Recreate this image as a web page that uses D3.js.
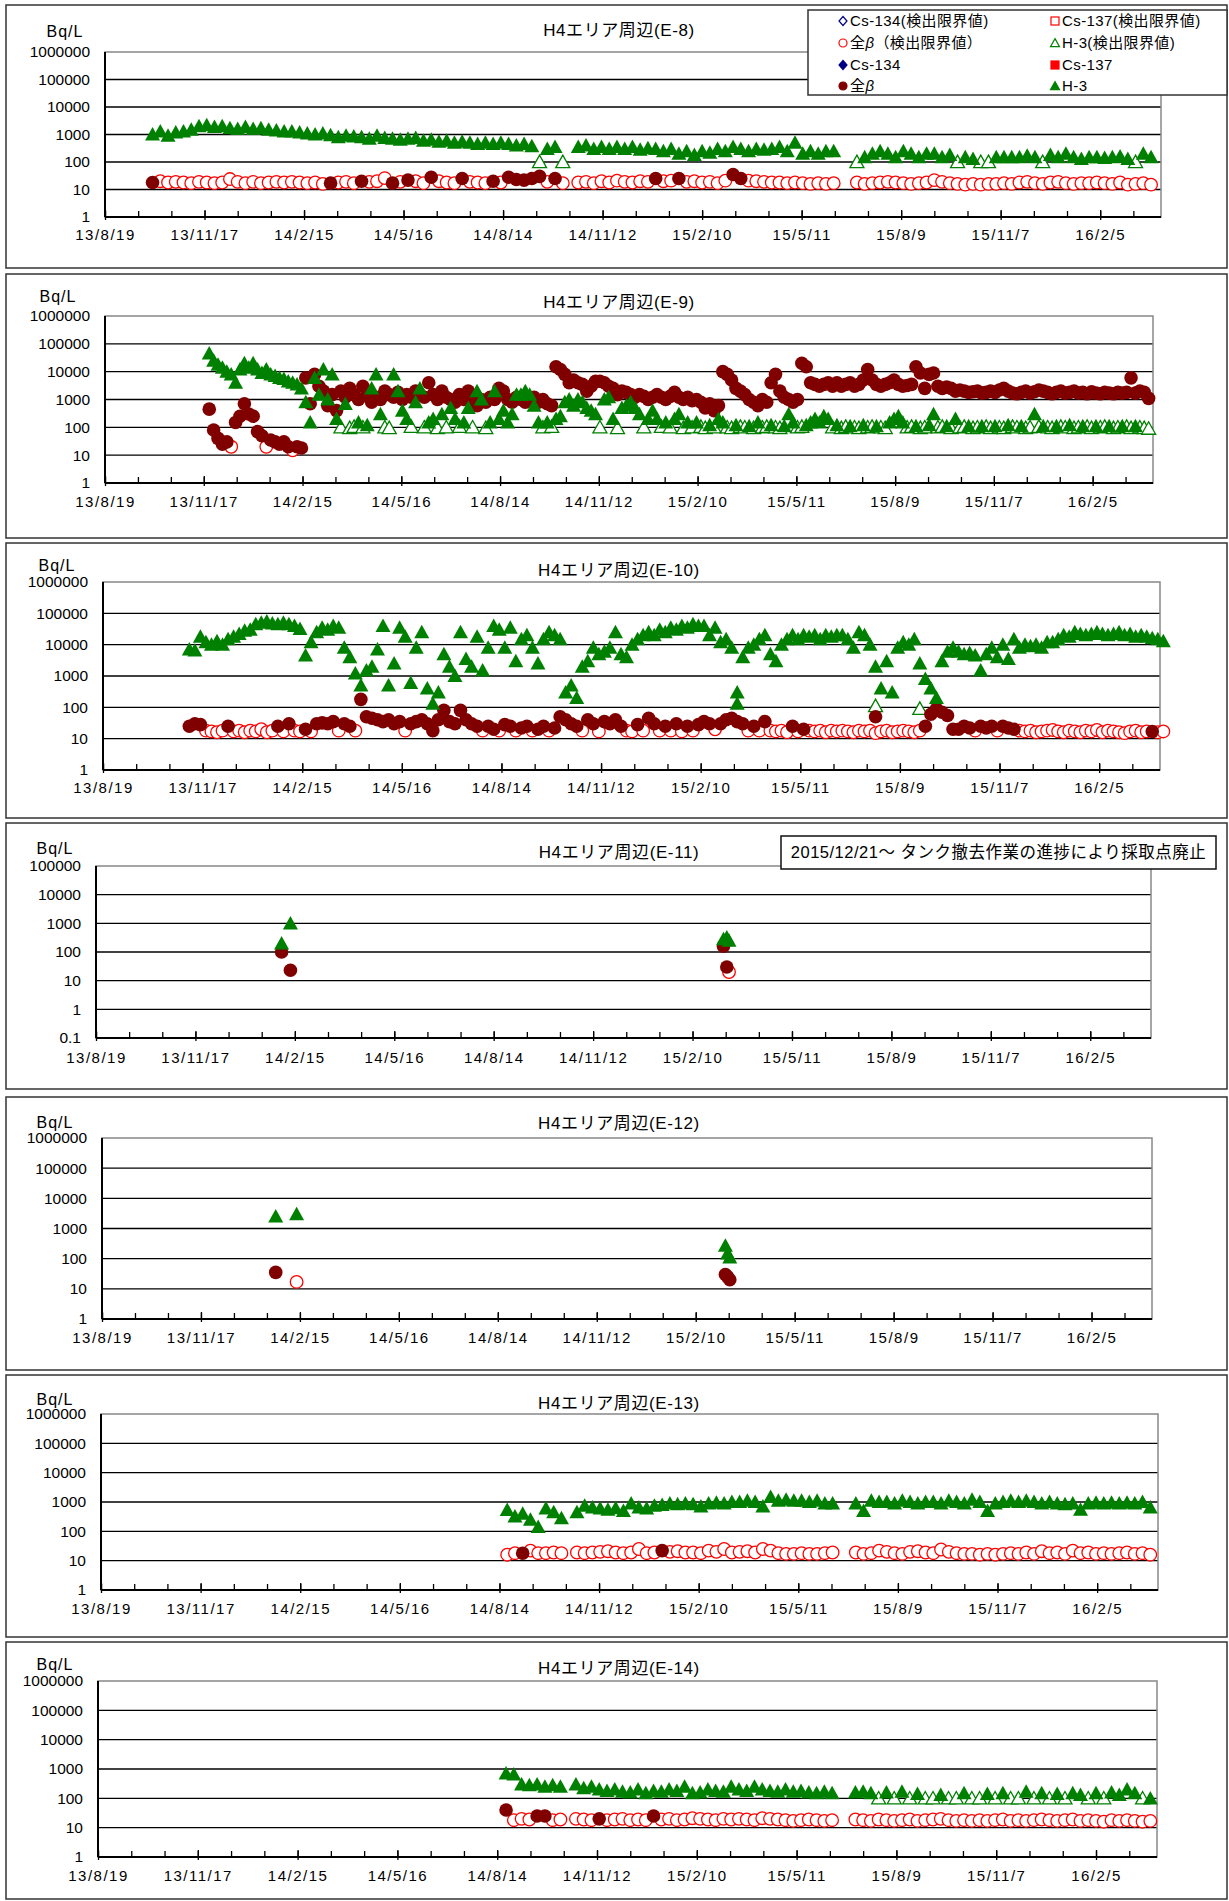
<!DOCTYPE html>
<html><head><meta charset="utf-8">
<script src="https://cdn.jsdelivr.net/npm/d3@7"></script>
<style>
body{margin:0;background:#fff}
svg{display:block}
text{font-family:"Liberation Sans","Noto Sans CJK JP",sans-serif;fill:#000}
</style>
</head><body>
<svg id="c" width="1229" height="1901"></svg>
<script>
// ---------------- DATA ----------------
// x axis
const AXIS_START = "2013-08-19";
const AXIS_END = "2016-03-31";
const tickLabels = ["13/8/19","13/11/17","14/2/15","14/5/16","14/8/14","14/11/12","15/2/10","15/5/11","15/8/9","15/11/7","16/2/5"];
const panelNames = ["E-8","E-9","E-10","E-11","E-12","E-13","E-14"];
const legendLabels = ["Cs-134(検出限界値)","Cs-137(検出限界値)","全β（検出限界値）","H-3(検出限界値)","Cs-134","Cs-137","全β","H-3"];
const noteText = "2015/12/21～ タンク撤去作業の進捗により採取点廃止";
// Series values (Bq/L). Positive = detected (filled marker),
// negative = below detection limit, plotted at |value| (open marker).
// null = no sample. An inner array = several samples in one slot.

// E-8 : weekly samples from 2013-10-01
const e8Start = "2013-10-01", e8Step = 7;
const e8H3 = [1000,1300,900,1200,1300,1500,2000,2200,1900,2000,
 1700,1600,1900,1600,1700,1500,1400,1300,1300,1200,
 1100,1000,1100,950,800,900,850,800,700,900,
 750,700,650,700,750,600,650,550,600,500,
 550,500,450,500,450,500,450,400,450,380,
 -100,300,350,-100,null,350,400,300,350,300,
 350,300,350,280,320,300,250,300,200,250,
 180,250,220,300,250,350,300,250,300,280,
 300,350,250,500,200,250,200,250,250,null,
 null,-100,150,200,250,200,150,250,200,150,
 200,200,150,180,-100,150,130,-100,-100,150,
 150,150,150,170,150,-100,180,150,200,150,
 130,150,150,140,150,160,130,-100,200,150];
const e8Beta = [18,-20,-18,-19,-18,-17,-19,-18,-17,-18,
 -24,-19,-17,-19,-17,-18,-19,-18,-19,-18,
 -17,-18,-16,17,-18,-19,-17,20,-19,-20,
 -26,17,-19,22,-20,-17,28,-20,-18,-17,
 25,-19,-18,-17,20,-18,28,23,22,25,
 30,-19,25,-17,null,-18,-19,-17,-20,-18,
 -21,-19,-18,-20,-19,25,-20,-21,25,-19,
 -20,-18,-19,-17,-21,35,25,-21,-20,-19,
 -18,-18,-17,-18,-17,-16,-17,-16,-17,null,
 null,-18,-16,-17,-18,-19,-18,-17,-16,-17,
 -18,-22,-19,-17,-16,-15,-16,-15,-16,-16,
 -17,-16,-18,-19,-17,-16,-18,-19,-17,-16,
 -17,-17,-18,-17,-16,-18,-15,-16,-17,-15];

// E-9 : samples every 4 days from 2013-11-22
const e9Start = "2013-11-22", e9Step = 4;
const e9H3 = [45000,25000,18000,14000,10000,8000,4000,12000,20000,14000,
 20000,12000,9000,12000,8000,7000,6000,5500,4500,4000,
 3500,2500,800,150,6000,1500,12000,1000,8000,200,
 -100,700,-95,-105,150,-100,120,2500,8000,300,
 -100,-95,8000,2000,400,200,-105,800,2500,-100,
 150,200,-95,300,-100,500,200,-105,150,500,
 -100,2000,1000,-95,150,2000,200,400,150,300,
 1500,1500,2000,1500,600,150,-100,150,-105,200,
 250,800,1000,600,1000,800,500,400,300,-100,
 1000,1200,200,-95,500,600,800,500,300,-100,
 200,400,200,-105,150,-100,200,300,-95,150,
 -100,150,-105,-95,120,-100,200,150,-100,-95,
 120,-105,-100,110,-95,150,-100,-105,120,-100,
 -95,110,300,150,-100,-105,120,150,200,150,
 250,200,-100,120,-95,-105,110,-100,-95,120,
 -100,-105,110,-100,-95,150,200,250,150,-100,
 -105,110,-95,-100,120,300,-100,-105,110,-95,
 200,-100,-105,110,-95,-100,110,-105,-95,110,
 -100,-95,120,-105,-100,110,-95,-100,300,-105,
 110,-100,-95,110,-105,-100,120,-95,-100,110,
 -105,-95,110,-100,-105,110,-95,-100,110,-105,
 -95,110,-100,-95,-90];
const e9Beta = [450,80,40,25,30,-20,150,250,700,300,
 250,70,50,-20,35,30,25,30,20,-15,
 20,18,6000,700,8000,3000,2000,600,1500,400,
 2000,1200,2500,1500,1000,3000,1500,800,1200,1000,
 2000,1500,1200,1800,1000,1500,1200,2000,1500,1200,
 4000,1500,1000,2000,1200,1000,800,1500,1000,2000,
 800,600,1000,800,1200,1000,2500,2000,1000,800,
 1200,1000,800,1000,1200,800,1000,700,600,15000,
 12000,8000,4000,5000,4000,3500,2000,3000,4500,4500,
 4000,3000,2500,1500,2000,1800,1500,1200,1500,1300,
 1000,1200,1500,1200,1000,1300,1800,1200,1000,1200,
 900,1000,800,500,700,400,600,10000,8000,5000,
 2500,2000,1500,1000,800,600,1000,800,4000,8000,
 2000,1200,1000,800,1000,20000,15000,4000,3500,3000,
 3500,4000,3000,4000,3000,3500,4000,3000,3500,5000,
 12000,5000,3500,3000,3500,4000,5000,3500,3000,3200,
 3500,15000,9000,2500,8000,9000,3000,2500,2800,2500,
 2000,2200,2000,1800,1900,2000,1700,1800,2000,1800,
 2200,2500,2000,1700,1600,1800,2000,1700,1900,2200,
 2000,1800,1600,1800,2000,1700,1800,2000,1700,1800,
 1600,1900,1700,1600,1800,1700,1600,1800,1700,1800,
 6000,1700,2000,1800,1100];

// E-10 : samples every 5 days from 2013-11-05
const e10Start = "2013-11-05", e10Step = 5;
const e10H3 = [7000,6500,18000,12000,10000,13000,10000,15000,18000,22000,
 28000,30000,45000,50000,55000,48000,45000,50000,45000,40000,
 32000,4500,12000,25000,35000,30000,40000,35000,8000,4000,
 1200,500,1500,2000,7000,40000,500,2500,35000,18000,
 600,8000,25000,400,130,300,5000,2000,1000,25000,
 3500,2000,18000,1500,8000,40000,30000,8000,35000,3000,
 15000,20000,8000,2500,15000,25000,20000,15000,300,500,
 200,2000,3000,8000,5000,6000,8000,25000,5000,4000,
 10000,15000,20000,25000,20000,30000,25000,35000,30000,40000,
 35000,45000,40000,40000,20000,35000,12000,15000,8000,[300,130],
 4000,8000,10000,15000,20000,5000,3000,10000,15000,20000,
 15000,20000,18000,20000,15000,20000,18000,20000,20000,15000,
 8000,25000,20000,10000,[2000,-110],400,3000,300,8000,12000,
 10000,15000,[2500,-90],800,400,200,3000,6000,8000,6000,
 5000,5500,4500,1500,5000,8000,4000,10000,3500,15000,
 8000,10000,9000,10000,8000,12000,12000,15000,20000,18000,
 25000,22000,20000,22000,25000,22000,20000,22000,25000,20000,
 22000,18000,20000,18000,16000,15000,13000];
const e10Beta = [25,30,28,-18,-17,-16,-18,25,-17,-18,
 -16,-18,-17,-20,-16,-18,25,-17,30,-18,
 -17,20,-17,30,32,30,35,-18,30,25,
 -18,180,50,45,40,35,40,30,35,-18,
 30,35,40,30,18,40,80,35,30,80,
 40,30,25,-18,25,20,-18,28,25,-18,
 22,25,-18,20,25,-18,22,50,40,30,
 25,-18,40,30,-17,35,30,40,25,-18,
 -17,28,-18,45,30,-18,25,-18,30,-17,
 25,-18,28,35,30,-20,30,40,45,35,
 30,-18,25,-18,35,-18,-17,-18,-16,25,
 -17,20,-18,-17,-18,-16,-18,-17,-18,-17,
 -16,-18,-17,-18,[50,-15],-17,-18,-16,-17,-18,
 -17,-16,-18,25,60,90,70,55,20,20,
 25,22,-18,25,22,25,-18,25,22,20,
 -18,-17,-18,-16,-17,-18,-19,-17,-16,-18,
 -17,-16,-18,-17,-19,-16,-18,-17,-16,-15,
 -17,-18,-16,-17,17,-16,-17];

// E-11 : individual samples
const e11Dates = ["2014-02-03","2014-02-11","2015-03-10","2015-03-13","2015-03-15"];
const e11H3 = [200,1000,280,320,250];
const e11Beta = [100,23,160,30,-20];

// E-12 : individual samples
const e12Dates = ["2014-01-24","2014-02-12","2015-03-09","2015-03-11","2015-03-13"];
const e12H3 = [2500,3000,270,150,110];
const e12Beta = [35,-17,30,25,20];

// E-13 : weekly samples from 2014-08-21
const e13Start = "2014-08-21", e13Step = 7;
const e13H3 = [540,320,400,250,140,600,450,280,null,450,
 750,650,600,550,620,500,900,650,600,750,
 800,900,850,900,850,700,900,950,900,1000,
 1000,1100,1000,700,1500,1100,1200,1100,1100,1000,
 1100,900,900,null,null,900,500,1100,1000,1000,
 900,1100,1000,900,1000,1000,900,1100,1000,900,
 1200,1000,500,900,1000,1100,1000,1100,1000,900,
 1000,900,850,900,550,900,950,900,950,900,
 950,900,1000,650];
const e13Beta = [-16,-18,18,-22,-18,-18,-19,-18,null,-19,
 -18,-19,-20,-21,-19,-18,-19,-25,-18,-19,
 22,-20,-21,-19,-19,-18,-22,-20,-25,-19,
 -20,-21,-19,-25,-22,-18,-17,-17,-18,-17,
 -17,-18,-19,null,null,-19,-17,-18,-22,-20,
 -18,-17,-20,-21,-19,-18,-24,-20,-18,-17,
 -17,-16,-17,-16,-17,-18,-17,-19,-17,-21,
 -18,-19,-17,-22,-18,-19,-17,-18,-17,-18,
 -19,-17,-18,-16];

// E-14 : weekly samples from 2014-08-22
const e14Start = "2014-08-22", e14Step = 7;
const e14H3 = [700,650,300,280,300,250,280,250,null,300,
 220,250,200,180,200,170,160,200,150,180,
 170,200,180,250,150,160,200,180,170,250,
 200,180,250,200,180,170,200,170,180,160,
 150,170,150,null,null,160,170,150,-100,160,
 -100,170,-100,140,-100,-100,130,-100,-100,150,
 -100,-100,140,-100,150,-100,-100,170,-100,150,
 -100,140,-100,150,130,-100,150,-100,160,130,
 200,150,-100,100];
const e14Beta = [40,-18,-20,-19,25,25,-18,-19,null,-20,
 -19,-18,20,-18,-19,-20,-18,-19,-18,25,
 -19,-20,-18,-19,-21,-20,-19,-18,-20,-19,
 -20,-19,-18,-21,-20,-19,-18,-17,-18,-19,
 -18,-17,-18,null,null,-19,-18,-17,-19,-18,
 -17,-18,-19,-17,-18,-19,-20,-18,-17,-18,
 -17,-18,-17,-18,-19,-17,-18,-17,-18,-19,
 -18,-17,-18,-19,-17,-18,-17,-16,-18,-17,
 -18,-17,-16,-17];

// ---------------- BUILD ----------------
const parse = d3.utcParse("%Y-%m-%d");
function fromGrid(start, step, arr) {
  const pts = [], s = parse(start);
  arr.forEach((v, i) => {
    if (v == null) return;
    const d = d3.utcDay.offset(s, i * step);
    [].concat(v).forEach(val => pts.push({date: d, value: Math.abs(val), nd: val < 0}));
  });
  return pts;
}
function fromList(dates, arr) {
  const pts = [];
  arr.forEach((v, i) => {
    if (v == null) return;
    [].concat(v).forEach(val => pts.push({date: parse(dates[i]), value: Math.abs(val), nd: val < 0}));
  });
  return pts;
}

const seriesByPanel = [
  {h3: fromGrid(e8Start, e8Step, e8H3), beta: fromGrid(e8Start, e8Step, e8Beta)},
  {h3: fromGrid(e9Start, e9Step, e9H3), beta: fromGrid(e9Start, e9Step, e9Beta)},
  {h3: fromGrid(e10Start, e10Step, e10H3), beta: fromGrid(e10Start, e10Step, e10Beta)},
  {h3: fromList(e11Dates, e11H3), beta: fromList(e11Dates, e11Beta)},
  {h3: fromList(e12Dates, e12H3), beta: fromList(e12Dates, e12Beta)},
  {h3: fromGrid(e13Start, e13Step, e13H3), beta: fromGrid(e13Start, e13Step, e13Beta)},
  {h3: fromGrid(e14Start, e14Step, e14H3), beta: fromGrid(e14Start, e14Step, e14Beta)}
];

// layout (pixels)
const layout = [
  {box:[6,5,1227,268],    l:105,r:1161,t:52,  b:217,  ymin:1,  ymax:1e6, ty:30,   ux:65, uy:31,   lab:18},
  {box:[6,274,1227,538],  l:105,r:1153,t:316, b:483,  ymin:1,  ymax:1e6, ty:302,  ux:58, uy:296,  lab:19},
  {box:[6,543,1227,818],  l:103,r:1160,t:582, b:770,  ymin:1,  ymax:1e6, ty:570,  ux:57, uy:565,  lab:18},
  {box:[6,823,1227,1089], l:96, r:1151,t:866, b:1038, ymin:0.1,ymax:1e5, ty:852,  ux:55, uy:848,  lab:20},
  {box:[6,1097,1227,1370],l:102,r:1152,t:1138,b:1319, ymin:1,  ymax:1e6, ty:1123, ux:55, uy:1122, lab:19},
  {box:[6,1375,1227,1637],l:101,r:1158,t:1414,b:1590, ymin:1,  ymax:1e6, ty:1403, ux:55, uy:1399, lab:19},
  {box:[6,1642,1227,1899],l:98, r:1157,t:1681,b:1857, ymin:1,  ymax:1e6, ty:1668, ux:55, uy:1664, lab:19}
];

const C = {green:"#008000", dred:"#800000", red:"#ff0000", navy:"#000080"};
const svg = d3.select("#c");
svg.append("rect").attr("width",1229).attr("height",1901).attr("fill","#fff");

const x0 = parse(AXIS_START), x1 = parse(AXIS_END);
const minorTicks = d3.range(0, 32).map(i => d3.utcDay.offset(x0, 30 * i));
const majorTicks = d3.range(0, tickLabels.length).map(i => d3.utcDay.offset(x0, 90 * i));

function triPath(cx, cy, w, h) {
  return `M${cx},${cy - h * 0.55}L${cx + w / 2},${cy + h * 0.45}L${cx - w / 2},${cy + h * 0.45}Z`;
}

layout.forEach((L, pi) => {
  const g = svg.append("g");
  const [bx0, by0, bx1, by1] = L.box;
  g.append("rect").attr("x", bx0).attr("y", by0).attr("width", bx1 - bx0).attr("height", by1 - by0)
    .attr("fill", "#fff").attr("stroke", "#333").attr("stroke-width", 1.5);

  const x = d3.scaleUtc().domain([x0, x1]).range([L.l, L.r]);
  const y = d3.scaleLog().domain([L.ymin, L.ymax]).range([L.b, L.t]);
  const decades = d3.range(Math.round(Math.log10(L.ymin)), Math.round(Math.log10(L.ymax)) + 1).map(e => Math.pow(10, e));

  // title + unit
  g.append("text").attr("x", 619).attr("y", L.ty).attr("dy", "0.35em").attr("text-anchor", "middle")
    .attr("font-size", 17).attr("letter-spacing", 0.6).text(`H4エリア周辺(${panelNames[pi]})`);
  g.append("text").attr("x", L.ux).attr("y", L.uy).attr("dy", "0.35em").attr("text-anchor", "middle")
    .attr("font-size", 16).attr("letter-spacing", 1).text("Bq/L");

  // gridlines
  g.append("g").selectAll("line").data(decades.filter(v => v > L.ymin && v < L.ymax)).join("line")
    .attr("x1", L.l).attr("x2", L.r).attr("y1", d => y(d)).attr("y2", d => y(d))
    .attr("stroke", "#000").attr("stroke-width", 1.3);
  // plot border
  g.append("rect").attr("x", L.l).attr("y", L.t).attr("width", L.r - L.l).attr("height", L.b - L.t)
    .attr("fill", "none").attr("stroke", "#888").attr("stroke-width", 1.5);

  // y axis labels
  const yAx = g.append("g").attr("transform", `translate(${L.l},0)`)
    .call(d3.axisLeft(y).tickValues(decades).tickFormat(v => v < 1 ? String(v) : d3.format("d")(v)).tickSize(0).tickPadding(15));
  yAx.select(".domain").remove();
  yAx.selectAll("text").attr("font-size", 15.5).attr("font-family", "Liberation Sans, sans-serif").attr("fill", "#000");

  // x axis ticks and labels
  const xMinor = g.append("g").attr("transform", `translate(0,${L.b})`)
    .call(d3.axisBottom(x).tickValues(minorTicks).tickSizeInner(-6).tickSizeOuter(0).tickFormat(""));
  xMinor.select(".domain").remove();
  xMinor.selectAll("line").attr("stroke", "#000").attr("stroke-width", 1.3);
  const xMajor = g.append("g").attr("transform", `translate(0,${L.b})`)
    .call(d3.axisBottom(x).tickValues(majorTicks).tickSizeInner(3).tickSizeOuter(0)
      .tickPadding(L.lab - 8.5).tickFormat((d, i) => tickLabels[i]));
  xMajor.select(".domain").remove();
  xMajor.selectAll("line").attr("stroke", "#000").attr("stroke-width", 1.3).attr("y1", -7);
  xMajor.selectAll("text").attr("font-size", 15).attr("letter-spacing", 1.5)
    .attr("font-family", "Liberation Sans, sans-serif").attr("fill", "#000");

  // axis lines
  g.append("line").attr("x1", L.l).attr("x2", L.r).attr("y1", L.b).attr("y2", L.b).attr("stroke", "#000").attr("stroke-width", 2);
  g.append("line").attr("x1", L.l).attr("x2", L.l).attr("y1", L.t).attr("y2", L.b).attr("stroke", "#000").attr("stroke-width", 2);

  // markers: order like the original workbook series (ND first, then detected)
  const S = seriesByPanel[pi];
  const mk = g.append("g");
  mk.selectAll("circle.bnd").data(S.beta.filter(d => d.nd)).join("circle").attr("class", "bnd")
    .attr("cx", d => x(d.date)).attr("cy", d => y(d.value)).attr("r", 6.3)
    .attr("fill", "#fff").attr("stroke", C.red).attr("stroke-width", 1.3);
  mk.selectAll("path.hnd").data(S.h3.filter(d => d.nd)).join("path").attr("class", "hnd")
    .attr("d", d => triPath(x(d.date), y(d.value), 14, 12.5))
    .attr("fill", "#fff").attr("stroke", C.green).attr("stroke-width", 1.3);
  mk.selectAll("circle.b").data(S.beta.filter(d => !d.nd)).join("circle").attr("class", "b")
    .attr("cx", d => x(d.date)).attr("cy", d => y(d.value)).attr("r", 6.8).attr("fill", C.dred);
  mk.selectAll("path.h").data(S.h3.filter(d => !d.nd)).join("path").attr("class", "h")
    .attr("d", d => triPath(x(d.date), y(d.value), 15, 13.5)).attr("fill", C.green);

  // legend in first panel
  if (pi === 0) {
    const lg = g.append("g");
    lg.append("rect").attr("x", 808).attr("y", 10).attr("width", 419).attr("height", 85)
      .attr("fill", "#fff").attr("stroke", "#333").attr("stroke-width", 1.5);
    const cols = [843, 1055], rows = [21, 43, 65, 86];
    legendLabels.forEach((lab, i) => {
      const cx = cols[i % 2], cy = rows[Math.floor(i / 2)];
      const kind = i % 4, filled = i >= 4;
      if (kind === 0) {
        lg.append("path").attr("d", `M${cx},${cy - 4.5}L${cx + 4},${cy}L${cx},${cy + 4.5}L${cx - 4},${cy}Z`)
          .attr("fill", filled ? C.navy : "#fff").attr("stroke", C.navy).attr("stroke-width", 1.2);
      } else if (kind === 1) {
        lg.append("rect").attr("x", cx - 4).attr("y", cy - 4).attr("width", 8).attr("height", 8)
          .attr("fill", filled ? C.red : "#fff").attr("stroke", C.red).attr("stroke-width", 1.2);
      } else if (kind === 2) {
        lg.append("circle").attr("cx", cx).attr("cy", cy).attr("r", 4)
          .attr("fill", filled ? C.dred : "#fff").attr("stroke", filled ? C.dred : C.red).attr("stroke-width", 1.2);
      } else {
        lg.append("path").attr("d", triPath(cx, cy, 9, 8))
          .attr("fill", filled ? C.green : "#fff").attr("stroke", C.green).attr("stroke-width", 1.2);
      }
      const t = lg.append("text").attr("x", cx + 7).attr("y", cy).attr("dy", "0.36em")
        .attr("font-size", 15).attr("letter-spacing", 0.4);
      if (lab.includes("β")) {
        const parts = lab.split("β");
        t.append("tspan").text(parts[0]);
        t.append("tspan").attr("font-style", "italic").text("β");
        t.append("tspan").text(parts[1]);
      } else t.text(lab);
    });
  }

  // note in E-11 panel
  if (pi === 3) {
    g.append("rect").attr("x", 781).attr("y", 836).attr("width", 435).attr("height", 33)
      .attr("fill", "#fff").attr("stroke", "#111").attr("stroke-width", 1.5);
    g.append("text").attr("x", 998.5).attr("y", 852.5).attr("dy", "0.36em").attr("text-anchor", "middle")
      .attr("font-size", 16.5).attr("letter-spacing", 0.5).text(noteText);
  }
});
</script>
</body></html>
